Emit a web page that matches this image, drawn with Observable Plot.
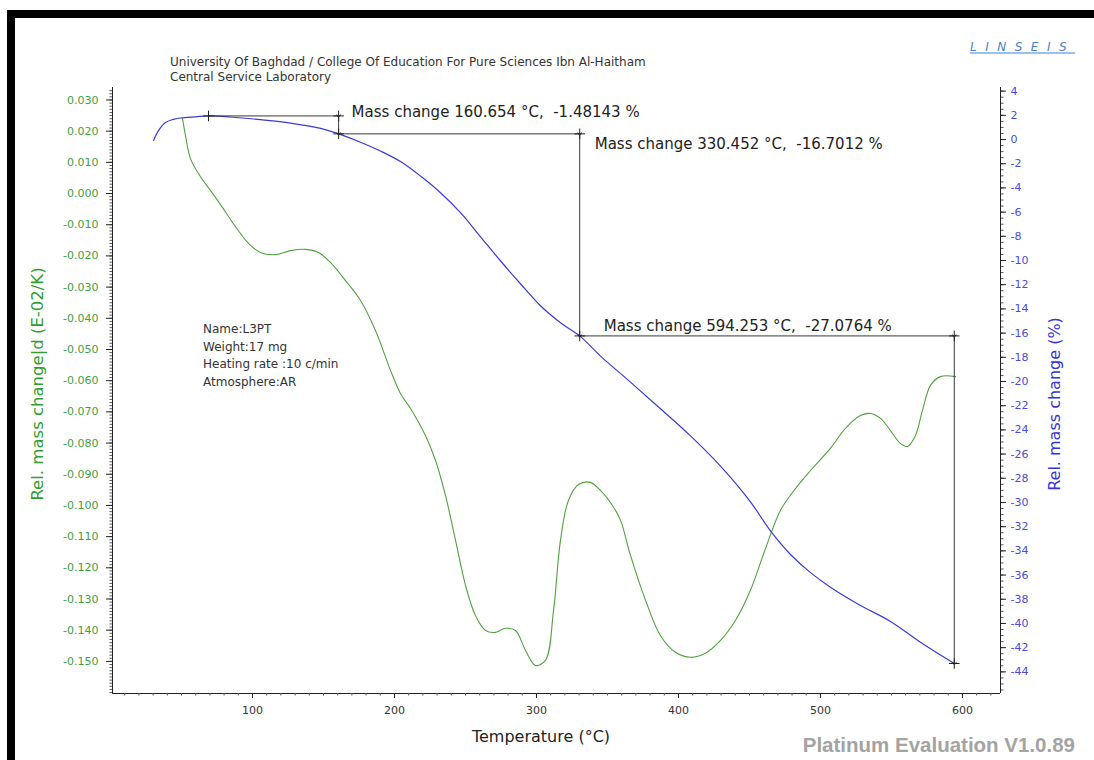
<!DOCTYPE html>
<html>
<head>
<meta charset="utf-8">
<script src="https://cdn.jsdelivr.net/npm/d3@7"></script>
<script src="https://cdn.jsdelivr.net/npm/@observablehq/plot@0.6"></script>
<style>
  html, body { margin: 0; padding: 0; background: #fff; overflow: hidden; width: 1094px; height: 760px; }
  #page { position: relative; width: 1094px; height: 760px; overflow: hidden; background: #fff; font-family: "DejaVu Sans", sans-serif; }
  .bar { position: absolute; background: #000; z-index: 5; }
  #chart { position: absolute; left: 0; top: 0; }
  .t { position: absolute; white-space: nowrap; line-height: 1; z-index: 6; }
  .rot { transform: translate(-50%, -50%) rotate(-90deg); }
</style>
</head>
<body>
<div id="page">
  <div id="chart"></div>
  <div class="bar" style="left:7px; top:10px; width:1087px; height:8px;"></div>
  <div class="bar" style="left:7px; top:10px; width:8px; height:750px;"></div>
  <div class="t" style="left:170px; top:56px; font-size:12px; color:#333;">University Of Baghdad / College Of Education For Pure Sciences Ibn Al-Haitham</div>
  <div class="t" style="left:170px; top:71px; font-size:12px; color:#333;">Central Service Laboratory</div>
  <div class="t" style="left:970px; top:41px; font-size:12px; font-style:italic; letter-spacing:8.5px; color:#4a82cc; text-decoration:underline; text-decoration-color:#9cc0e8; text-decoration-thickness:2px;">LINSEIS</div>
  <div class="t" style="left:203px; top:323px; font-size:12px; color:#333;">Name:L3PT</div>
  <div class="t" style="left:203px; top:341px; font-size:12px; color:#333;">Weight:17 mg</div>
  <div class="t" style="left:203px; top:358px; font-size:12px; color:#333;">Heating rate :10 c/min</div>
  <div class="t" style="left:203px; top:376px; font-size:12px; color:#333;">Atmosphere:AR</div>
  <div class="t rot" style="left:38px; top:384px; font-size:16.5px; color:#2f9e2f;">Rel. mass change|d (E-02/K)</div>
  <div class="t rot" style="left:1055px; top:404px; font-size:16px; color:#3535d5;">Rel. mass change (%)</div>
  <div class="t" style="left:541px; top:737px; transform:translate(-50%,-50%); font-size:16px; color:#222;">Temperature (°C)</div>
  <div class="t" style="right:19px; top:735px; font-family:'Liberation Sans',sans-serif; font-weight:bold; font-size:20.5px; color:#a3a3a3;">Platinum Evaluation V1.0.89</div>
</div>
<script>
// DTG curve: temperature (°C) and rel. mass change rate (E-02/K)
const dtgTemp = [50.7, 52.8, 56.3, 63.4, 70.4, 78.9, 88.0, 97.2, 105.6, 116.2, 126.8, 137.3, 146.5, 154.9,
  165.5, 176.1, 186.6, 197.2, 204.2, 211.3, 221.8, 228.9, 235.9, 243.0, 250.0, 257.0, 264.1, 271.1,
  278.2, 285.2, 292.3, 299.3, 306.3, 312.0, 316.9, 322.5, 329.6, 338.0, 345.1, 353.5, 359.2, 366.2,
  376.8, 387.3, 397.9, 408.5, 419.0, 429.6, 440.1, 450.7, 461.3, 471.8, 482.4, 493.0, 507.0, 517.6,
  528.2, 535.2, 542.3, 549.3, 556.3, 561.3, 566.9, 571.8, 577.5, 584.5, 595.1];
const dtgValue = [0.0240, 0.0186, 0.0112, 0.0054, 0.0010, -0.0045, -0.0106, -0.0160, -0.0189, -0.0196,
  -0.0183, -0.0179, -0.0189, -0.0221, -0.0279, -0.0343, -0.0439, -0.0567, -0.0641, -0.0689, -0.0776,
  -0.0856, -0.0968, -0.1112, -0.1256, -0.1353, -0.1401, -0.1407, -0.1394, -0.1401, -0.1465, -0.1513,
  -0.1497, -0.1337, -0.1112, -0.0984, -0.0933, -0.0926, -0.0952, -0.1000, -0.1048, -0.1160, -0.1304,
  -0.1417, -0.1471, -0.1487, -0.1474, -0.1433, -0.1369, -0.1272, -0.1138, -0.1016, -0.0946, -0.0888,
  -0.0817, -0.0753, -0.0712, -0.0705, -0.0721, -0.0760, -0.0801, -0.0811, -0.0776, -0.0696, -0.0615,
  -0.0587, -0.0587];

// TG curve: temperature (°C) and rel. mass change (%)
const tgTemp = [30.3, 33.8, 38.7, 43.7, 49.3, 59.9, 69.0, 84.5, 105.6, 126.8, 147.9, 160.654, 176.1,
  190.1, 204.2, 218.3, 232.4, 246.5, 260.6, 274.6, 288.7, 302.8, 316.9, 330.452, 345.1, 366.2, 387.3,
  408.5, 429.6, 450.7, 464.8, 478.9, 493.0, 507.0, 528.2, 549.3, 570.4, 594.253];
const tgValue = [-0.08, 0.74, 1.40, 1.65, 1.78, 1.88, 1.95, 1.86, 1.64, 1.36, 0.92, 0.4686, -0.22,
  -0.95, -1.82, -3.02, -4.40, -6.05, -8.04, -10.02, -11.92, -13.74, -15.14, -16.2327, -17.90, -20.05,
  -22.25, -24.50, -27.00, -29.95, -32.35, -34.30, -35.80, -37.00, -38.51, -39.83, -41.55, -43.3091];

// Mass change steps evaluated on the TG curve
const stepStartTemp = 69.0;
const stepStartLevel = 1.95;
const stepTemp = [160.654, 330.452, 594.253];
const stepMass = [-1.48143, -16.7012, -27.0764];

// Axis ticks
const xTickLabels = [100, 200, 300, 400, 500, 600];
const leftTickLabels = ["0.030", "0.020", "0.010", "0.000", "-0.010", "-0.020", "-0.030", "-0.040",
  "-0.050", "-0.060", "-0.070", "-0.080", "-0.090", "-0.100", "-0.110", "-0.120", "-0.130", "-0.140", "-0.150"];
const rightTickLabels = [4, 2, 0, -2, -4, -6, -8, -10, -12, -14, -16, -18, -20, -22, -24, -26, -28,
  -30, -32, -34, -36, -38, -40, -42, -44];

// Scale extents
const xDomain = [1.4, 626.8];
const dtgDomain = [-0.1603, 0.034];
const tgDomain = [-45.79, 4.30];

// TG (%) is drawn on the DTG scale through this linear map; the right axis maps back.
const toLeft = d3.scaleLinear().domain(tgDomain).range(dtgDomain);

const dtgRows = dtgTemp.map((t, i) => ({t, v: dtgValue[i]}));
const tgRows = tgTemp.map((t, i) => ({t, v: tgValue[i]}));

// step levels: start, after step 1, after step 2, after step 3
const levels = [stepStartLevel];
stepMass.forEach(m => levels.push(levels[levels.length - 1] + m));
const hStart = [stepStartTemp, stepTemp[0], stepTemp[1]];
const hSegs = stepTemp.map((t, i) => ({x1: hStart[i], x2: t, y: levels[i]}));
const vSegs = stepTemp.map((t, i) => ({x: t, y1: levels[i], y2: levels[i + 1]}));
const crossPts = [{x: stepStartTemp, y: levels[0]}]
  .concat(stepTemp.map((t, i) => ({x: t, y: levels[i]})))
  .concat(stepTemp.map((t, i) => ({x: t, y: levels[i + 1]})));
const stepLabel = i => `Mass change ${stepTemp[i]} °C,  ${stepMass[i]} %`;

const leftTickValues = leftTickLabels.map(Number);
const leftMinor = d3.range(-160, 34, 1).map(k => k / 1000);
const rightMinor = d3.range(-91, 9, 1).map(k => toLeft(k / 2));
const xMinor = d3.range(10, 627, 10);

const axisStroke = "#222";
const annColor = "#3a3a3a";

const chart = Plot.plot({
  width: 1094,
  height: 760,
  marginLeft: 112,
  marginRight: 94,
  marginTop: 87,
  marginBottom: 67,
  style: {background: "transparent", fontFamily: "DejaVu Sans, sans-serif"},
  x: {domain: xDomain, axis: null},
  y: {domain: dtgDomain, axis: null},
  marks: [
    // frame lines: left, right, bottom
    Plot.ruleX(xDomain, {stroke: axisStroke, strokeWidth: 1}),
    Plot.ruleY([dtgDomain[0]], {stroke: axisStroke, strokeWidth: 1}),

    // left axis (DTG)
    Plot.axisY(leftMinor, {anchor: "left", tickSize: 2.5, tickFormat: () => "", stroke: "#555", label: null}),
    Plot.axisY(leftTickValues, {anchor: "left", tickSize: 6, tickPadding: 8, stroke: axisStroke,
      color: "#3f9f3f", fontSize: 11, label: null,
      tickFormat: d => leftTickLabels[leftTickValues.indexOf(d)]}),

    // right axis (TG)
    Plot.axisY(rightMinor, {anchor: "right", tickSize: 2.5, tickFormat: () => "", stroke: "#555", label: null}),
    Plot.axisY(rightTickLabels.map(v => toLeft(v)), {anchor: "right", tickSize: 5, tickPadding: 5,
      stroke: axisStroke, color: "#4a4ae0", fontSize: 11, label: null,
      tickFormat: d => String(Math.round(toLeft.invert(d)))}),

    // bottom axis (temperature)
    Plot.axisX(xMinor, {anchor: "bottom", tickSize: 2.5, tickFormat: () => "", stroke: "#555", label: null}),
    Plot.axisX(xTickLabels, {anchor: "bottom", tickSize: 5, tickPadding: 8, stroke: axisStroke,
      color: "#333", fontSize: 11, label: null}),

    // DTG curve
    Plot.line(dtgRows, {x: "t", y: "v", stroke: "#52a040", strokeWidth: 1.1, curve: "catmull-rom"}),
    // TG curve
    Plot.line(tgRows, {x: "t", y: d => toLeft(d.v), stroke: "#3a3ad6", strokeWidth: 1.2, curve: "catmull-rom"}),

    // mass change evaluation
    Plot.link(hSegs, {x1: "x1", x2: "x2", y1: d => toLeft(d.y), y2: d => toLeft(d.y), stroke: annColor, strokeWidth: 1}),
    Plot.link(vSegs, {x1: "x", x2: "x", y1: d => toLeft(d.y1), y2: d => toLeft(d.y2), stroke: annColor,
      strokeWidth: 1, markerStart: "arrow", markerEnd: "arrow"}),
    Plot.dot(crossPts, {x: "x", y: d => toLeft(d.y), symbol: "plus", r: 3.5, stroke: "#222", strokeWidth: 1}),
    Plot.text([0], {x: () => stepTemp[0], y: () => toLeft(levels[0]), text: () => stepLabel(0),
      textAnchor: "start", dx: 13, dy: -4, fontSize: 15, fill: "#222"}),
    Plot.text([1], {x: () => stepTemp[1], y: () => toLeft(levels[1]), text: () => stepLabel(1),
      textAnchor: "start", dx: 15, dy: 10, fontSize: 15, fill: "#222"}),
    Plot.text([2], {x: () => stepTemp[1], y: () => toLeft(levels[2]), text: () => stepLabel(2),
      textAnchor: "start", dx: 24, dy: -10, fontSize: 15, fill: "#222"})
  ]
});

document.getElementById("chart").appendChild(chart);
</script>
</body>
</html>
